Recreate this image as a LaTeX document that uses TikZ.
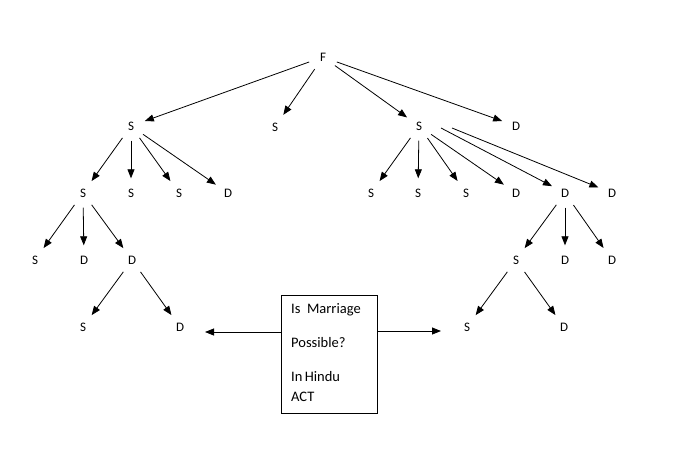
\documentclass[tikz,border=0pt]{standalone}
\usepackage{fontspec}
\setmainfont{Carlito}
\usetikzlibrary{arrows.meta}
\begin{document}
\begin{tikzpicture}[x=1pt,y=-1pt,
  lbl/.style={circle, minimum size=29pt, inner sep=0pt, font=\fontsize{13}{15}\selectfont},
  arr/.style={-{Triangle[length=9pt,width=7pt]}, line width=0.8pt},
  boxtxt/.style={anchor=base west, inner sep=0pt, font=\fontsize{14.5}{16}\selectfont}]
\useasboundingbox (0,0) rectangle (682,458);
% level 0
\node[lbl] (F) at (323,57) {F};
% level 1
\node[lbl] (a) at (131,126) {S};
\node[lbl] (b) at (275,127) {S};
\node[lbl] (c) at (419,126) {S};
\node[lbl] (d) at (516,126) {D};
% level 2 left
\node[lbl] (a1) at (83,193) {S};
\node[lbl] (a2) at (131,193) {S};
\node[lbl] (a3) at (179,193) {S};
\node[lbl] (a4) at (228,193) {D};
% level 2 right
\node[lbl] (c1) at (371,193) {S};
\node[lbl] (c2) at (418,193) {S};
\node[lbl] (c3) at (466,193) {S};
\node[lbl] (c4) at (516,193) {D};
\node[lbl] (c5) at (565,193) {D};
\node[lbl] (c6) at (612,193) {D};
% level 3 left
\node[lbl] (a11) at (35,260) {S};
\node[lbl] (a12) at (84,260) {D};
\node[lbl] (a13) at (132,260) {D};
% level 4 left
\node[lbl] (a131) at (83,327) {S};
\node[lbl] (a132) at (180,327) {D};
% level 3 right
\node[lbl] (c51) at (516,260) {S};
\node[lbl] (c52) at (565,260) {D};
\node[lbl] (c53) at (612,260) {D};
% level 4 right
\node[lbl] (c511) at (467,327) {S};
\node[lbl] (c512) at (564,327) {D};
% box
\node[draw, line width=0.8pt, minimum width=96pt, minimum height=118pt, inner sep=0pt, anchor=north west] (box) at (281,295) {};
\node[boxtxt] (t1) at (291,313.5) {Is\ \ Marriage};
\node[boxtxt] (t2) at (291,347.5) {Possible?};
\node[boxtxt] (t3) at (291,381.5) {In\,Hindu};
\node[boxtxt] (t4) at (291,401.5) {ACT};
\coordinate (lt) at (205,332);
\coordinate (rt) at (441,331);
\coordinate (cs5) at (441,128);
\coordinate (cs6) at (452,128);
% edges
\foreach \p/\c in {F/a,F/b,F/c,F/d,a/a1,a/a2,a/a3,a/a4,c/c1,c/c2,c/c3,c/c4,
  a1/a11,a1/a12,a1/a13,a13/a131,a13/a132,c5/c51,c5/c52,c5/c53,c51/c511,c51/c512}
  \draw[arr] (\p) -- (\c);
\draw[arr] (cs5) -- (c5);
\draw[arr] (cs6) -- (c6);
\draw[arr] (box.west |- lt) -- (lt);
\draw[arr] (box.east |- rt) -- (rt);
\end{tikzpicture}
\end{document}
